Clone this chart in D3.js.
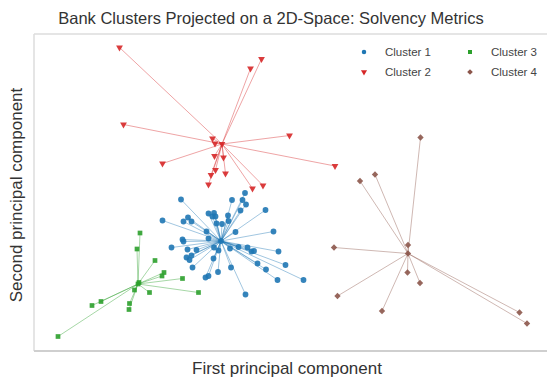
<!DOCTYPE html>
<html>
<head>
<meta charset="utf-8">
<script src="https://cdn.jsdelivr.net/npm/d3@7"></script>
<style>
  body { margin: 0; background: #fff; }
  text { font-family: "Liberation Sans", Arial, sans-serif; }
</style>
</head>
<body>
<div id="chart"></div>
<script>
// cluster centres (first, second principal component)
const centres = [[-0.26, 0.18], [-0.24, 2.12], [-1.92, -0.68], [3.48, -0.07]];
const clusterNames = ["Cluster 1", "Cluster 2", "Cluster 3", "Cluster 4"];
const clusterColors = ["#1f77b4", "#d62728", "#2ca02c", "#8c564b"];

const cluster1 = [[0.22,1.14],[-1.06,1.01],[-0.04,1.00],[0.17,1.00],[0.24,0.91],[0.63,0.80],[0.13,0.79],
  [-0.51,0.73],[-0.40,0.74],[-0.43,0.67],[-0.37,0.67],[-0.12,0.69],[-0.92,0.65],[-1.43,0.59],[-1.01,0.57],
  [-0.85,0.57],[-0.11,0.58],[-0.35,0.53],[-0.24,0.52],[0.79,0.37],[-0.55,0.37],[0.03,0.36],[-1.03,0.21],
  [-1.01,0.17],[-0.51,0.23],[-1.25,0.05],[-0.40,0.05],[-0.08,0.03],[0.09,0.06],[0.27,0.05],[0.35,-0.03],
  [0.40,-0.02],[0.89,-0.03],[-0.93,0.01],[-0.75,0.00],[-0.85,-0.11],[-0.95,-0.15],[-0.89,-0.20],[-0.41,-0.17],
  [-0.31,-0.01],[0.47,-0.27],[1.03,-0.30],[-0.83,-0.35],[-0.06,-0.35],[0.64,-0.39],[-0.32,-0.44],[-0.51,-0.52],
  [-0.57,-0.55],[0.87,-0.60],[1.39,-0.60],[0.23,-0.89]];
const cluster2 = [[-2.29,4.05],[0.55,3.82],[0.33,3.63],[-2.21,2.51],[1.11,2.29],[-0.43,2.23],[-0.38,2.13],
  [-1.43,1.73],[2.02,1.68],[-0.39,1.88],[-0.21,1.85],[-0.37,1.60],[-0.17,1.53],[-0.46,1.50],[-0.51,1.31],
  [0.37,1.23],[0.58,1.29]];
const cluster3 = [[-1.88,0.34],[-1.94,0.02],[-1.58,-0.21],[-1.40,-0.45],[-1.44,-0.52],[-1.03,-0.57],
  [-1.90,-0.65],[-1.99,-0.80],[-1.69,-0.85],[-0.71,-0.85],[-2.66,-1.03],[-2.84,-1.11],[-2.09,-1.07],
  [-2.10,-1.19],[-3.52,-1.73]];
const cluster4 = [[3.73,2.25],[2.82,1.51],[2.52,1.38],[3.48,0.10],[2.00,0.05],[3.47,-0.45],[3.72,-0.66],
  [2.07,-0.92],[2.96,-1.22],[5.71,-1.25],[5.86,-1.47]];

const clusters = [cluster1, cluster2, cluster3, cluster4];

const W = 547, H = 379;
const plot = {left: 34, top: 34, right: 560, bottom: 351};

const svg = d3.select("#chart").append("svg")
  .attr("width", W).attr("height", H);

const x = d3.scaleLinear().domain([-4, 6.52]).range([plot.left, plot.right]);
const y = d3.scaleLinear().domain([-2.02, 4.32]).range([plot.bottom, plot.top]);

// frame (no right spine visible, it sits outside the crop)
svg.append("line").attr("x1", plot.left).attr("x2", W).attr("y1", plot.top).attr("y2", plot.top)
  .attr("stroke", "#dcdcdc").attr("stroke-width", 1.5);
svg.append("line").attr("x1", plot.left).attr("x2", plot.left).attr("y1", plot.top).attr("y2", plot.bottom)
  .attr("stroke", "#dcdcdc").attr("stroke-width", 1.5);
svg.append("line").attr("x1", plot.left).attr("x2", W).attr("y1", plot.bottom).attr("y2", plot.bottom)
  .attr("stroke", "#cfcfcf").attr("stroke-width", 2);

// circle, triangle (flipped), square, diamond (square turned 45deg)
const symTypes = [d3.symbolCircle, d3.symbolTriangle, d3.symbolSquare, d3.symbolSquare];
const symSizes = [26, 20, 22, 20];
const rot = [0, 180, 0, 45];

clusters.forEach((pts, i) => {
  const c = centres[i];
  const g = svg.append("g");
  // spokes from the centre to each bank
  g.selectAll("line.spoke").data(pts).join("line")
    .attr("class", "spoke")
    .attr("x1", x(c[0])).attr("y1", y(c[1]))
    .attr("x2", d => x(d[0])).attr("y2", d => y(d[1]))
    .attr("stroke", clusterColors[i])
    .attr("stroke-opacity", 0.42)
    .attr("stroke-width", 1);
  g.selectAll("path.pt").data(pts.concat([c])).join("path")
    .attr("class", "pt")
    .attr("d", d3.symbol().type(symTypes[i]).size(symSizes[i]))
    .attr("transform", d => `translate(${x(d[0])},${y(d[1])}) rotate(${rot[i]})`)
    .attr("fill", clusterColors[i])
    .attr("opacity", 0.9);
});

// legend
const legPos = [[364, 52], [364, 72], [470, 52], [470, 72]];
clusterNames.forEach((name, i) => {
  svg.append("path")
    .attr("d", d3.symbol().type(symTypes[i]).size(16))
    .attr("transform", `translate(${legPos[i][0]},${legPos[i][1]}) rotate(${rot[i]})`)
    .attr("fill", clusterColors[i]);
  svg.append("text")
    .attr("x", legPos[i][0] + 21).attr("y", legPos[i][1] + 4)
    .attr("font-size", 11.5).attr("fill", "#444")
    .text(name);
});

// title & axis labels
svg.append("text")
  .attr("x", 271).attr("y", 24)
  .attr("text-anchor", "middle")
  .attr("font-size", 16.5).attr("fill", "#333")
  .text("Bank Clusters Projected on a 2D-Space: Solvency Metrics");

svg.append("text")
  .attr("x", 287).attr("y", 374)
  .attr("text-anchor", "middle")
  .attr("font-size", 17).attr("fill", "#333")
  .text("First principal component");

svg.append("text")
  .attr("transform", "translate(22,195) rotate(-90)")
  .attr("text-anchor", "middle")
  .attr("font-size", 17).attr("fill", "#333")
  .text("Second principal component");
</script>
</body>
</html>
